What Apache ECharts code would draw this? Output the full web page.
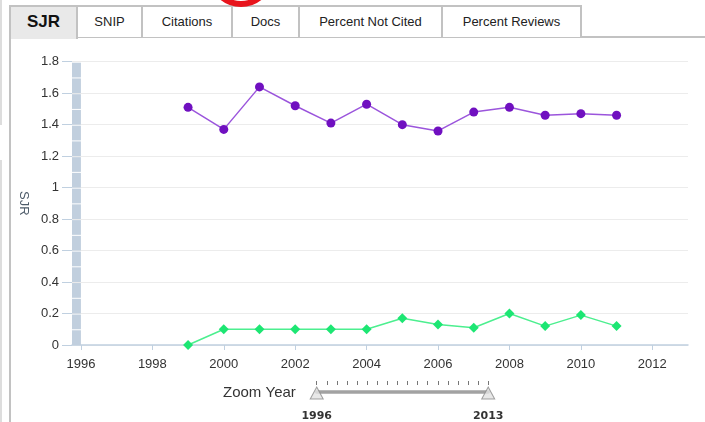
<!DOCTYPE html>
<html>
<head>
<meta charset="utf-8">
<script src="https://cdn.jsdelivr.net/npm/echarts@6/dist/echarts.min.js"></script>
<style>
  body { margin: 0; background: #fff; }
  #wrap { position: relative; width: 705px; height: 422px; overflow: hidden; font-family: "Liberation Sans", Arial, sans-serif; }
  #main { position: absolute; left: 0; top: 0; width: 705px; height: 422px; }
  .tab { position: absolute; top: 5px; height: 32px; line-height: 29px; box-sizing: border-box; text-align: center;
         font-size: 13px; color: #222; background: #fff; border-top: 2px solid #c2c2c2; border-right: 2px solid #c2c2c2; z-index: 2; }
  .tab.sel { background: #e9e9e9; font-weight: bold; font-size: 17px; color: #111; height: 34px; }
  .line { position: absolute; background: #c2c2c2; z-index: 2; }
  #arc { position: absolute; left: 0; top: 0; z-index: 3; }
</style>
</head>
<body>
<div id="wrap">
  <div id="main"></div>
  <div class="line" style="left:0;top:0;width:2px;height:125px;background:#ddd"></div>
  <div class="line" style="left:0;top:160px;width:2px;height:262px;background:#ddd"></div>
  <div class="line" style="left:9px;top:5px;width:2px;height:417px"></div>
  <div class="line" style="left:78px;top:36px;width:627px;height:2px"></div>
  <div class="tab sel" style="left:11px;width:67px">SJR</div>
  <div class="tab" style="left:78px;width:65px">SNIP</div>
  <div class="tab" style="left:143px;width:90px">Citations</div>
  <div class="tab" style="left:233px;width:67px">Docs</div>
  <div class="tab" style="left:300px;width:143px">Percent Not Cited</div>
  <div class="tab" style="left:443px;width:139px">Percent Reviews</div>
  <svg id="arc" width="705" height="40"><circle cx="241" cy="-26" r="30" fill="none" stroke="#e8141c" stroke-width="6"/></svg>
</div>
<script>
// values
var years = [1999, 2000, 2001, 2002, 2003, 2004, 2005, 2006, 2007, 2008, 2009, 2010, 2011];
var sjrMain = [1.51, 1.37, 1.64, 1.52, 1.41, 1.53, 1.40, 1.36, 1.48, 1.51, 1.46, 1.47, 1.46];
var sjrLow = [0.00, 0.10, 0.10, 0.10, 0.10, 0.10, 0.17, 0.13, 0.11, 0.20, 0.12, 0.19, 0.12];
var xTicks = [1996, 1998, 2000, 2002, 2004, 2006, 2008, 2010, 2012];
var bandYears = [1995.75, 1996];
var bandSteps = [0.1, 0.1, 0.1, 0.1, 0.1, 0.1, 0.1, 0.1, 0.1, 0.1, 0.1, 0.1, 0.1, 0.1, 0.1, 0.1, 0.1, 0.1];
var zoomRange = [1996, 2013];

var myChart = echarts.init(document.getElementById("main"));

var labelFont = { color: "#333", fontSize: 13, fontFamily: "Liberation Sans" };
var plainYear = function (v) { return String(v); };

// segments of the grey-blue band: [x0, x1, yFrom, yTo]
var bandData = [];
var acc = 0;
bandSteps.forEach(function (v) {
  bandData.push([bandYears[0], bandYears[1], acc, acc + v]);
  acc += v;
});

var series = [];
series.push({
  type: "custom",
  silent: true,
  data: bandData,
  encode: { x: [0, 1], y: [2, 3] },
  renderItem: function (params, api) {
    var p0 = api.coord([api.value(0), api.value(2)]);
    var p1 = api.coord([api.value(1), api.value(3)]);
    return {
      type: "rect",
      shape: { x: p0[0], y: p1[1] + 1, width: p1[0] - p0[0], height: p0[1] - p1[1] - 1 },
      style: { fill: "#c1cfde" }
    };
  },
  z: 1
});
series.push({
  name: "SJR",
  type: "line",
  data: years.map(function (y, i) { return [y, sjrMain[i]]; }),
  symbol: "circle",
  symbolSize: 9,
  itemStyle: { color: "#7010c0" },
  lineStyle: { color: "#9b55dc", width: 1.5 },
  z: 3
});
series.push({
  name: "SJR2",
  type: "line",
  data: years.map(function (y, i) { return [y, sjrLow[i]]; }),
  symbol: "diamond",
  symbolSize: 10,
  itemStyle: { color: "#1de673" },
  lineStyle: { color: "#4cef8f", width: 1.5 },
  z: 3
});
// zoom slider handles
series.push({
  type: "scatter",
  xAxisIndex: 1,
  yAxisIndex: 1,
  data: zoomRange.map(function (v) { return [v, 0]; }),
  symbol: "triangle",
  symbolSize: [13, 12],
  symbolOffset: [0, 1],
  itemStyle: { color: "#e2e2e2", borderColor: "#8a8a8a", borderWidth: 1 },
  silent: true,
  z: 5
});

var option = {
  animation: false,
  grid: [
    { left: 72, right: 17, top: 61.7, bottom: 77 },
    { left: 316.7, width: 171.5, top: 381, height: 12 }
  ],
  xAxis: [
    {
      type: "value",
      min: 1995.75,
      max: 2013,
      axisLine: { lineStyle: { color: "#c0d0e0", width: 1.5 } },
      axisTick: { customValues: xTicks, length: 5, lineStyle: { color: "#c0d0e0" } },
      axisLabel: Object.assign({ customValues: xTicks, margin: 13, formatter: plainYear }, labelFont),
      splitLine: { show: false }
    },
    {
      type: "value",
      gridIndex: 1,
      min: zoomRange[0],
      max: zoomRange[1],
      axisLine: { lineStyle: { color: "#a2a2a2", width: 3.5 } },
      axisTick: { show: false },
      axisLabel: { customValues: zoomRange, margin: 19, formatter: plainYear, color: "#333", fontSize: 11, fontWeight: "bold", fontFamily: "DejaVu Sans" },
      splitLine: { show: false }
    },
    {
      type: "value",
      gridIndex: 1,
      position: "top",
      min: zoomRange[0],
      max: zoomRange[1],
      interval: 1,
      axisLine: { show: false },
      axisTick: { inside: true, length: 4, lineStyle: { color: "#777" } },
      axisLabel: { show: false },
      splitLine: { show: false }
    }
  ],
  yAxis: [
    {
      type: "value",
      min: 0,
      max: 1.8,
      interval: 0.2,
      name: "SJR",
      nameLocation: "middle",
      nameRotate: -90,
      nameGap: 41,
      nameTextStyle: { color: "#4d5b69", fontSize: 13, fontFamily: "Liberation Sans" },
      axisLine: { show: false },
      axisTick: { show: true, length: 10, lineStyle: { color: "#c0d0e0" } },
      axisLabel: Object.assign({ margin: 13 }, labelFont),
      splitLine: { lineStyle: { color: "#ececec", width: 1 } }
    },
    { type: "value", gridIndex: 1, min: 0, max: 1, show: false }
  ],
  graphic: [
    {
      type: "text",
      style: { text: "Zoom Year", x: 223, y: 393, verticalAlign: "middle", font: "15px 'Liberation Sans'", fill: "#333" }
    }
  ],
  series: series
};
myChart.setOption(option);
</script>
</body>
</html>
